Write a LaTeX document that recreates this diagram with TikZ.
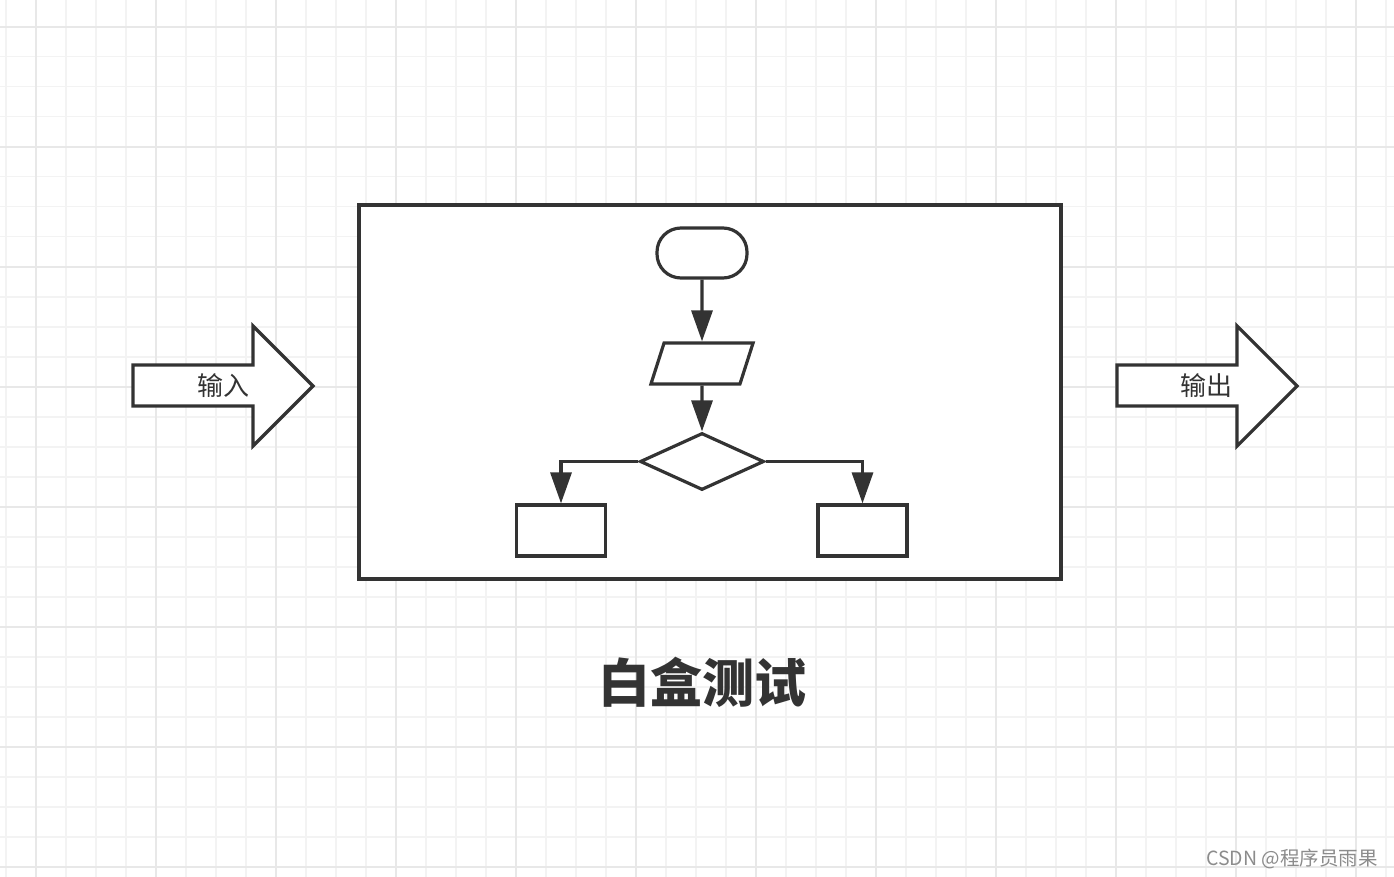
\documentclass[tikz,border=0pt]{standalone}
\usepackage{fontspec}
\setmainfont{Noto Sans CJK SC}
\usetikzlibrary{arrows.meta, positioning, shapes.geometric}
\definecolor{inkgray}{HTML}{333333}
\definecolor{gridminor}{HTML}{F3F3F3}
\definecolor{gridmajor}{HTML}{E8E8E8}
\definecolor{markgray}{HTML}{8C8C8C}

\begin{document}
\begin{tikzpicture}[
  x=1pt, y=-1pt,
  shapebox/.style={draw=inkgray, line width=3.2pt, fill=white, inner sep=0pt},
  blockarrow/.style={draw=inkgray, line width=3.2pt, fill=white},
  flowline/.style={draw=inkgray, line width=3.2pt, -{Triangle[length=31pt, width=21pt]}},
  arrowtext/.style={text=inkgray, inner sep=0pt, font=\fontsize{26pt}{30pt}\selectfont}
]

% background and grid
\useasboundingbox (0,0) rectangle (1394,877);
\fill[white] (0,0) rectangle (1394,877);
\foreach \gx in {6,36,...,1386}
  \draw[gridminor, line width=1.6pt] (\gx,0) -- (\gx,877);
\foreach \gy in {26.7,56.7,...,870}
  \draw[gridminor, line width=1.6pt] (0,\gy) -- (1394,\gy);
\foreach \gx in {36,156,...,1386}
  \draw[gridmajor, line width=1.8pt] (\gx,0) -- (\gx,877);
\foreach \gy in {26.7,146.7,...,870}
  \draw[gridmajor, line width=1.8pt] (0,\gy) -- (1394,\gy);

% the white box
\node[shapebox, minimum width=702pt, minimum height=374pt] (whitebox) at (710,392) {};

% flow chart inside
\node[shapebox, rounded corners=24pt, minimum width=90pt, minimum height=50pt] (start) at (702,253) {};
\node[shapebox, xslant=0.32, minimum width=89pt, minimum height=41pt] (input) at (702,363.5) {};
\node[shapebox, diamond, minimum width=124pt, minimum height=57pt] (check) at (702,461.5) {};
\node[shapebox, minimum width=89pt, minimum height=51pt] (yesbox) at (561,530.5) {};
\node[shapebox, minimum width=89pt, minimum height=51pt] (nobox) at (862.5,530.5) {};

\draw[flowline] (start) -- (input);
\draw[flowline] (input) -- (check);
\draw[flowline] (check.west) -| (yesbox.north);
\draw[flowline] (check.east) -| (nobox.north);

% input and output arrows
\draw[blockarrow] (133,365) -- (253,365) -- (253,326) -- (313,386)
  -- (253,446) -- (253,406) -- (133,406) -- cycle;
\node[arrowtext] (intext) at (223,386) {输入};
\draw[blockarrow] (1117,365) -- (1237,365) -- (1237,326) -- (1297,386)
  -- (1237,446) -- (1237,406) -- (1117,406) -- cycle;
\node[arrowtext] (outtext) at (1206,386) {输出};

% title
\node[text=inkgray, font=\fontsize{52pt}{60pt}\selectfont\bfseries] (title) at (702,682) {白盒测试};

% watermark
\node[text=markgray, anchor=east, inner sep=0pt, font=\fontsize{19.5pt}{24pt}\selectfont] (mark) at (1378,859) {CSDN @程序员雨果};

\end{tikzpicture}
\end{document}
